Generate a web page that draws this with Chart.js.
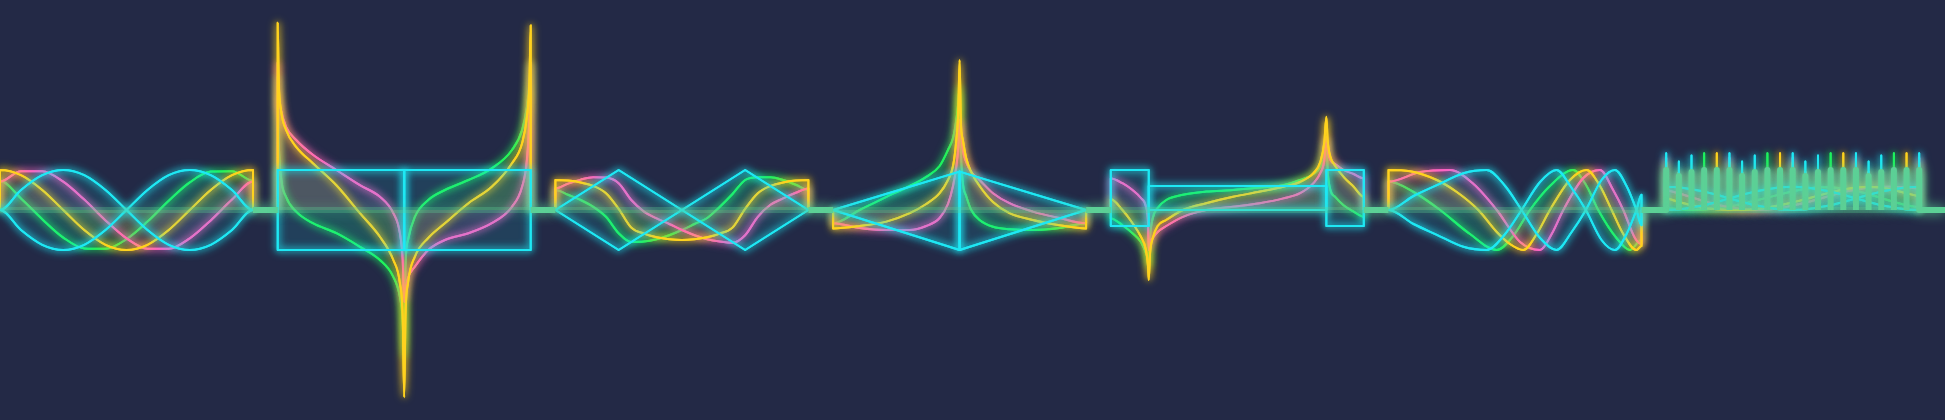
<!DOCTYPE html>
<html>
<head>
<meta charset="utf-8">
<title>Waves</title>
<script src="https://cdn.jsdelivr.net/npm/chart.js@4.4.1/dist/chart.umd.min.js"></script>
<style>
  html, body { margin: 0; padding: 0; background: #232946; overflow: hidden; }
  #waves { display: block; }
</style>
</head>
<body>
<canvas id="waves" width="1945" height="420"></canvas>
<script>
// values, y in box units (baseline = 0, box edge = 1)
// t runs 0..1 across each of the seven panels

// panel 1 - waves
var s1T      = [0, .083, .167, .25, .333, .417, .5, .583, .667, .75, .833, .917, 1];
var s1Yellow = [1, .87, .5, 0, -.5, -.87, -1, -.87, -.5, 0, .5, .87, 1];
var s1Pink   = [.71, .97, .97, .71, .26, -.26, -.71, -.97, -.97, -.71, -.26, .26, .71];
var s1Green  = [.73, .29, -.23, -.69, -.96, -.97, -.73, -.29, .23, .69, .96, .97, .73];
var s1CyanA  = [0, .5, .87, 1, .87, .5, 0, -.5, -.87, -1, -.87, -.5, 0];
var s1CyanB  = [0, -.5, -.87, -1, -.87, -.5, 0, .5, .87, 1, .87, .5, 0];

// panel 2 - tangent
var s2T      = [0, .004, .013, .033, .073, .139, .232, .325, .404, .457, .483, .494, .5,
                .505, .515, .542, .595, .661, .754, .846, .926, .966, .985, .995, 1];
var s2Yellow = [4.68, 3.25, 2.5, 2, 1.58, 1.17, .62, -.08, -.67, -1.25, -1.83, -2.67, -4.68,
                -2.67, -1.83, -1.17, -.7, -.33, .17, .58, 1.17, 1.67, 2.33, 3.17, 4.62];
var s2Pink   = [3.68, 2.9, 2.5, 2.08, 1.75, 1.38, 1, .62, .33, -.08, -.58, -1.25, -2.3,
                -2, -1.7, -1.42, -1, -.75, -.58, -.33, .08, .58, 1.25, 2.33, 3.68];
var s2Green  = [3.33, 1.75, .83, .33, -.04, -.33, -.58, -.92, -1.25, -1.67, -2.17, -2.75, -3.68,
                -1.42, -.75, -.17, .25, .5, .75, 1.04, 1.5, 2, 2.58, 3.17, 3.68];
var s2StepT  = [0, 0, .5, .5, 1, 1];
var s2CyanA  = [0, 1, 1, -1, -1, 0];
var s2CyanB  = [0, -1, -1, 1, 1, 0];

// panel 3 - arcs
var s3T      = [0, .05, .1, .15, .2, .25, .3, .35, .4, .45, .5, .55, .6, .65, .7, .75, .8, .85, .9, .95, 1];
var s3Yellow = [.75, .735, .69, .6, .42, .03, -.44, -.59, -.68, -.73, -.75, -.73, -.68, -.59, -.44, .03, .42, .6, .69, .735, .75];
var s3Pink   = [.54, .66, .76, .82, .81, .67, .25, -.04, -.21, -.35, -.5, -.63, -.73, -.79, -.82, -.63, -.17, .13, .29, .43, .54];
var s3Green  = [.5, .38, .25, .08, -.17, -.58, -.8, -.79, -.73, -.63, -.5, -.35, -.2, .08, .4, .75, .82, .82, .75, .63, .5];
var s3LineT  = [0, .25, .75, 1];
var s3CyanA  = [0, 1, -1, 0];
var s3CyanB  = [0, -1, 1, 0];

// panel 4 - peak
var s4T      = [0, .105, .211, .303, .368, .421, .454, .474, .487, .495, .5,
                .505, .513, .526, .546, .579, .632, .697, .789, .895, 1];
var s4Yellow = [-.46, -.4, -.29, -.08, .15, .42, .75, 1.1, 1.75, 2.5, 3.75,
                2.2, 1.75, 1.3, .95, .6, .2, -.08, -.25, -.38, -.46];
var s4Pink   = [-.33, -.45, -.5, -.5, -.4, -.2, .15, .6, 1.08, 1.6, 2.25,
                2, 1.5, 1.2, .95, .75, .42, .17, -.04, -.2, -.33];
var s4Green  = [-.33, 0, .33, .6, .83, 1.1, 1.5, 1.8, 2.25, 2.7, 3.08,
                1.5, .67, .35, 0, -.25, -.42, -.48, -.5, -.45, -.33];
var s4LineT  = [0, .5, .5, 1];
var s4CyanA  = [0, .96, -1, 0];
var s4CyanB  = [0, -1, .96, 0];

// panel 5 - poles
var s5T      = [0, .046, .086, .119, .139, .147, .15, .155, .166, .185, .219, .285, .377, .483,
                .589, .682, .748, .801, .828, .844, .852, .857, .868, .887, .92, .96, 1];
var s5Yellow = [.27, 0, -.33, -.67, -1, -1.4, -1.75, -1.1, -.7, -.4, -.25, 0, .17, .33,
                .46, .58, .7, .92, 1.2, 1.7, 2.33, 1.75, 1.33, 1.1, .83, .58, .33];
var s5Pink   = [.79, .67, .5, .3, .08, -.3, -1, -.8, -.7, -.55, -.4, -.17, 0, .08,
                .17, .29, .42, .67, .92, 1.25, 1.83, 1.5, 1.25, 1.15, 1, .9, .79];
var s5Green  = [-.21, -.38, -.58, -.8, -1.08, -1.25, -1.42, -.7, -.2, .05, .25, .38, .46, .5,
                .56, .62, .75, .9, 1.08, 1.4, 1.75, 1, .5, .33, .12, -.04, -.17];
var s5StepT  = [0, 0, .15, .15, .852, .852, 1, 1];
var s5CyanA  = [0, 1, 1, 0, 0, 1, 1, 0];
var s5CyanB  = [0, -.4, -.4, .6, .6, -.4, -.4, 0];

// panel 6 - chirp
var s6YellowT = [0, .086, .191, .27, .355, .428, .48, .533, .586, .638, .717, .783, .836, .882, .928, .98, 1];
var s6Yellow  = [1, .97, .75, .45, 0, -.55, -.85, -1, -.6, 0, .75, 1, .6, 0, -.6, -1, -.9];
var s6PinkT   = [0, .125, .243, .336, .428, .52, .599, .645, .691, .77, .836, .888, .928, .974, 1];
var s6Pink    = [.71, .95, 1, .65, 0, -.8, -1, -.6, 0, .8, 1, .5, 0, -.7, -.85];
var s6GreenT  = [0, .099, .204, .322, .428, .493, .559, .638, .73, .783, .829, .901, .954, 1];
var s6Green   = [.71, .45, 0, -.6, -1, -.65, 0, .6, 1, .6, 0, -.7, -1, -.75];
var s6CyanT   = [0, .099, .191, .296, .388, .461, .526, .599, .664, .724, .78, .842, .895, .941, .98, 1];
var s6CyanA   = [0, .35, .62, .92, 1, .6, 0, -.7, -1, -.55, 0, .75, 1, .6, 0, -.38];
var s6CyanB   = [0, -.35, -.62, -.92, -1, -.6, 0, .7, 1, .55, 0, -.75, -1, -.6, 0, .38];

// panel 7 - comb
var s7T         = [0, .05, .1, .15, .2, .25, .3, .35, .4, .45, .5, .55, .6, .65, .7, .75, .8, .85, .9, .95, 1];
var s7CyanA     = [.58, .57, .52, .46, .38, .29, .2, .12, .06, .01, 0, .01, .06, .12, .2, .29, .38, .46, .52, .57, .58];
var s7CyanB     = [0, .01, .06, .12, .2, .29, .38, .46, .52, .57, .58, .57, .52, .46, .38, .29, .2, .12, .06, .01, 0];
var s7Pink      = [.5, .42, .32, .22, .13, .07, .02, 0, .01, .04, .11, .18, .27, .36, .45, .51, .56, .58, .58, .56, .54];
var s7Yellow    = [.3, .2, .12, .05, .02, 0, 0, .02, .06, .12, .19, .27, .36, .44, .51, .56, .58, .56, .5, .42, .34];
var s7Green     = [.05, .02, 0, .01, .04, .09, .15, .23, .31, .39, .47, .53, .57, .57, .54, .48, .4, .3, .2, .12, .06];
var s7CyanTip   = [1.42, 1.21, 1.36, .95, .95, 1.42, 1.21, 1.36, .95, .95, 1.42, 1.21, 1.36, .95, .95, 1.42, 1.21, 1.36, .95, .95, 1.42];
var s7PinkTip   = [1.3, .95, .95, .95, .95, 1.3, .95, .95, .95, .95, 1.3, .95, .95, .95, .95, 1.3, .95, .95, .95, .95, 1.3];
var s7YellowTip = [1.18, .95, .95, .95, 1.42, 1.18, .95, .95, .95, 1.42, 1.18, .95, .95, .95, 1.42, 1.18, .95, .95, .95, 1.42, 1.18];
var s7GreenTip  = [.95, .95, .95, 1.42, .95, .95, .95, .95, 1.42, .95, .95, .95, .95, 1.42, .95, .95, .95, .95, 1.42, .95, .95];
var s7MintTip   = [1, .85, .95, 1, 1, 1, .85, .95, 1, 1, 1, .85, .95, 1, 1, 1, .85, .95, 1, 1, 1];

(function() {
	'use strict';

	var CYAN = '#1ee8f4';
	var PINK = '#ff62c4';
	var YELLOW = '#ffd21e';
	var GREEN = '#1ef25e';
	var MINT = '#5cd096';
	var MINT_FAINT = 'rgba(92, 208, 150, 0.3)';

	// each panel is this wide, panels are one x unit apart
	var SEG_W = 253 / 277.7;
	var X_MAX = 1945 / 277.7;

	function fade(hex, a) {
		var n = parseInt(hex.slice(1), 16);
		return 'rgba(' + (n >> 16) + ',' + ((n >> 8) & 255) + ',' + (n & 255) + ',' + a + ')';
	}

	/**
	 * one coloured line inside one panel, closed to the baseline at both edges
	 */
	function piece(seg, t, u, color, straight) {
		var pts = [{x: seg, y: 0}];
		t.forEach(function(tv, i) {
			pts.push({x: seg + tv * SEG_W, y: u[i]});
		});
		pts.push({x: seg + SEG_W, y: 0});
		return {
			data: pts,
			borderColor: color,
			backgroundColor: fade(color, 0.12),
			fill: 'origin',
			borderWidth: 2,
			borderJoinStyle: 'round',
			tension: 0,
			cubicInterpolationMode: straight ? 'default' : 'monotone',
			pointRadius: 0,
			glow: 10
		};
	}

	/**
	 * comb panel: every point goes up to its tip and back
	 */
	function comb(t, curve, tips) {
		var tt = [], uu = [];
		t.forEach(function(tv, i) {
			tt.push(tv, tv, tv);
			uu.push(curve[i], tips ? tips[i] : curve[i], curve[i]);
		});
		return [tt, uu];
	}

	function baseline() {
		var pts = [];
		for (var k = 0; k < 7; k++) {
			pts.push({x: k, y: 0});
			if (k === 6) {
				s7T.forEach(function(tv, i) {
					var x = k + tv * SEG_W;
					pts.push({x: x, y: 0}, {x: x, y: s7MintTip[i]}, {x: x, y: 0});
				});
			}
			pts.push({x: k + SEG_W, y: 0});
		}
		pts.push({x: X_MAX, y: 0});
		return {
			data: pts,
			borderColor: MINT,
			borderWidth: 6,
			borderJoinStyle: 'round',
			fill: false,
			tension: 0,
			pointRadius: 0,
			glow: 12,
			segment: {
				borderColor: function(c) {
					var a = c.p0.parsed.x, b = c.p1.parsed.x;
					if (a === b) return MINT;
					var mid = (a + b) / 2;
					return (mid - Math.floor(mid)) > SEG_W ? MINT : MINT_FAINT;
				}
			}
		};
	}

	var datasets = [baseline()];

	var panels = [
		[[s1T, s1CyanA, CYAN], [s1T, s1CyanB, CYAN], [s1T, s1Yellow, YELLOW], [s1T, s1Pink, PINK], [s1T, s1Green, GREEN]],
		[[s2StepT, s2CyanA, CYAN, 1], [s2StepT, s2CyanB, CYAN, 1], [s2T, s2Yellow, YELLOW], [s2T, s2Pink, PINK], [s2T, s2Green, GREEN]],
		[[s3LineT, s3CyanA, CYAN, 1], [s3LineT, s3CyanB, CYAN, 1], [s3T, s3Yellow, YELLOW], [s3T, s3Pink, PINK], [s3T, s3Green, GREEN]],
		[[s4LineT, s4CyanA, CYAN, 1], [s4LineT, s4CyanB, CYAN, 1], [s4T, s4Yellow, YELLOW], [s4T, s4Pink, PINK], [s4T, s4Green, GREEN]],
		[[s5StepT, s5CyanA, CYAN, 1], [s5StepT, s5CyanB, CYAN, 1], [s5T, s5Yellow, YELLOW], [s5T, s5Pink, PINK], [s5T, s5Green, GREEN]],
		[[s6CyanT, s6CyanA, CYAN], [s6CyanT, s6CyanB, CYAN], [s6YellowT, s6Yellow, YELLOW], [s6PinkT, s6Pink, PINK], [s6GreenT, s6Green, GREEN]]
	];

	panels.forEach(function(lines, seg) {
		lines.forEach(function(l) {
			datasets.push(piece(seg, l[0], l[1], l[2], !!l[3]));
		});
	});

	[[s7CyanA, s7CyanTip, CYAN], [s7CyanB, null, CYAN], [s7Yellow, s7YellowTip, YELLOW],
	 [s7Pink, s7PinkTip, PINK], [s7Green, s7GreenTip, GREEN]].forEach(function(l) {
		var c = comb(s7T, l[0], l[1]);
		datasets.push(piece(6, c[0], c[1], l[2], true));
	});

	// neon look: the line is stroked with a coloured shadow, then once more on top
	var glowPlugin = {
		id: 'glow',
		beforeDatasetDraw: function(chart, args) {
			var ds = chart.data.datasets[args.index];
			chart.ctx.save();
			chart.ctx.shadowColor = typeof ds.borderColor === 'string' ? ds.borderColor : MINT;
			chart.ctx.shadowBlur = ds.glow || 10;
		},
		afterDatasetDraw: function(chart, args) {
			var ds = chart.data.datasets[args.index];
			chart.ctx.shadowBlur = (ds.glow || 10) * 0.6;
			args.meta.dataset.draw(chart.ctx, chart.chartArea);
			chart.ctx.restore();
		}
	};

	var ctx = document.getElementById('waves');
	new Chart(ctx, {
		type: 'line',
		data: { datasets: datasets },
		options: {
			responsive: false,
			animation: false,
			events: [],
			layout: { padding: 0 },
			plugins: {
				legend: { display: false },
				tooltip: { enabled: false }
			},
			scales: {
				x: { type: 'linear', min: 0, max: X_MAX, display: false },
				y: { min: -5.25, max: 5.25, display: false }
			}
		},
		plugins: [glowPlugin]
	});
})();
</script>
</body>
</html>
